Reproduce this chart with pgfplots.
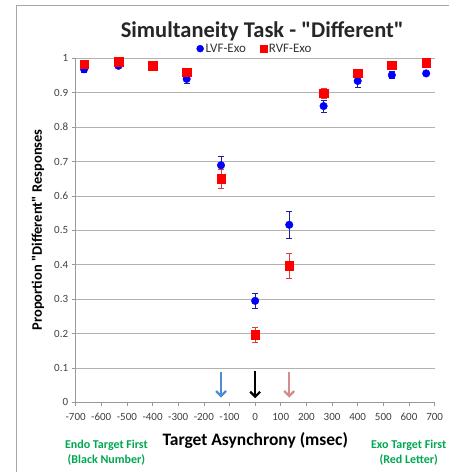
\documentclass[border=0pt]{standalone}
\usepackage{pgfplots}
\pgfplotsset{compat=1.18}
\usepackage{fontspec}
\setmainfont{Carlito}[Ligatures=TeXOff]
\usetikzlibrary{arrows.meta}
\definecolor{exgreen}{RGB}{0,166,80}
\definecolor{lvf}{RGB}{0,0,255}
\definecolor{rvf}{RGB}{255,0,0}
\definecolor{lvferr}{RGB}{30,30,160}
\definecolor{rvferr}{RGB}{220,60,60}
\definecolor{arrblue}{RGB}{80,140,210}
\definecolor{arrpink}{RGB}{215,140,140}
\definecolor{tickgray}{RGB}{64,64,64}
\begin{document}
\begin{tikzpicture}
\path (0pt,0pt) rectangle (450pt,472pt);
\draw[gray!70, line width=0.8pt] (16pt,0pt) -- (16pt,467pt) -- (449pt,467pt);
\begin{axis}[
  at={(75.7pt,69.3pt)}, anchor=south west,
  scale only axis, width=359.3pt, height=344.4pt,
  xmin=-700, xmax=700, ymin=0, ymax=1,
  xtick={-700,-600,...,700}, ytick={0,0.1,...,1.0},
  axis x line*=bottom, axis y line*=left,
  axis line style={gray!80, line width=0.6pt},
  tick style={gray!80, line width=0.6pt},
  tick align=outside, major tick length=4pt,
  ymajorgrids, grid style={gray!60, line width=0.6pt},
  tick label style={font=\fontsize{11}{13}\selectfont, text=tickgray},
  /pgf/number format/assume math mode=true,
  yticklabel style={/pgf/number format/fixed, /pgf/number format/precision=1},
  xticklabel style={yshift=-3pt},
  clip=false,
  legend style={at={(0.5,1)}, anchor=south, yshift=2pt, draw=none, fill=none,
    legend columns=2, inner sep=0.5pt,
    nodes={font=\fontsize{13}{14}\selectfont, text=black!80},
    /tikz/every even column/.append style={column sep=12pt}},
  legend cell align=left,
]
\addplot[only marks, mark=*, mark size=3.8pt, color=lvf,
  legend image post style={mark size=3.5pt},
  error bars/.cd, y dir=both, y explicit,
  error bar style={lvferr, line width=0.7pt},
  error mark options={rotate=90, mark size=3pt, lvferr, line width=0.7pt}]
  coordinates {
  (-667,0.968) +- (0,0.008)
  (-533,0.978) +- (0,0.005)
  (-400,0.976) +- (0,0.005)
  (-267,0.940) +- (0,0.012)
  (-133,0.689) +- (0,0.025)
  (0,0.295) +- (0,0.023)
  (133,0.516) +- (0,0.038)
  (267,0.861) +- (0,0.018)
  (400,0.934) +- (0,0.018)
  (533,0.951) +- (0,0.010)
  (667,0.956) +- (0,0.005)
  };
\addlegendentry{LVF-Exo}
\addplot[only marks, mark=square*, mark size=4.3pt, color=rvf,
  legend image post style={mark size=3.5pt},
  error bars/.cd, y dir=both, y explicit,
  error bar style={rvferr, line width=0.7pt},
  error mark options={rotate=90, mark size=3pt, rvferr, line width=0.7pt}]
  coordinates {
  (-667,0.983) +- (0,0.006)
  (-533,0.990) +- (0,0.005)
  (-400,0.979) +- (0,0.005)
  (-267,0.959) +- (0,0.008)
  (-133,0.650) +- (0,0.027)
  (0,0.197) +- (0,0.022)
  (133,0.397) +- (0,0.036)
  (267,0.898) +- (0,0.015)
  (400,0.956) +- (0,0.008)
  (533,0.980) +- (0,0.006)
  (667,0.987) +- (0,0.008)
  };
\addlegendentry{RVF-Exo}
\addplot[arrblue, line width=2.2pt, -{Straight Barb[length=5pt,width=10pt]},
  quiver={u=0, v=-0.074}, forget plot] coordinates {(-133,0.088)};
\addplot[black, line width=2.2pt, -{Straight Barb[length=5pt,width=10pt]},
  quiver={u=0, v=-0.078}, forget plot] coordinates {(0,0.090)};
\addplot[arrpink, line width=2.2pt, -{Straight Barb[length=5pt,width=10pt]},
  quiver={u=0, v=-0.074}, forget plot] coordinates {(133,0.088)};
\end{axis}
\node[font=\fontsize{22.5}{24}\selectfont\bfseries, text=black!85] at (262.5pt,440.5pt) {Simultaneity Task - "Different"};
\node[font=\fontsize{14.5}{16}\selectfont\bfseries, rotate=90] at (38pt,242pt) {Proportion "Different" Responses};
\node[font=\fontsize{17.5}{19}\selectfont\bfseries] at (255.5pt,31pt) {Target Asynchrony (msec)};
\node[font=\fontsize{12}{15}\selectfont\bfseries, text=exgreen, align=center] at (106.5pt,18.5pt) {Endo Target First\\(Black Number)};
\node[font=\fontsize{12}{15}\selectfont\bfseries, text=exgreen, align=center] at (409pt,18.5pt) {Exo Target First\\(Red Letter)};
\end{tikzpicture}
\end{document}
